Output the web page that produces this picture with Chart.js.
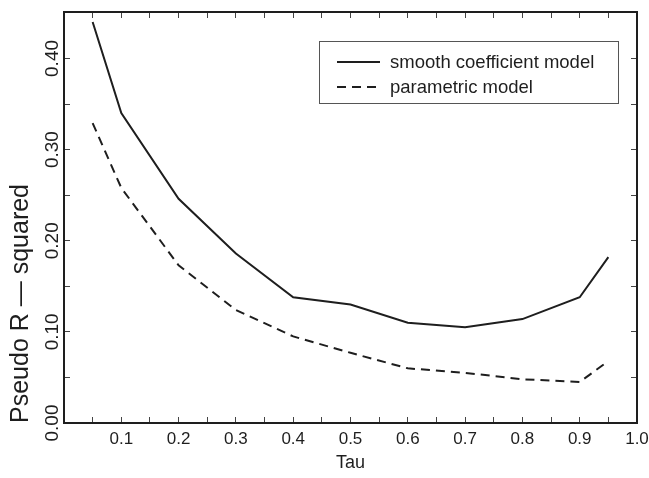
<!DOCTYPE html>
<html>
<head>
<meta charset="utf-8">
<title>Pseudo R-squared by Tau</title>
<script src="https://cdn.jsdelivr.net/npm/chart.js@4.4.1/dist/chart.umd.min.js"></script>
<style>
  html, body { margin: 0; padding: 0; background: #fff; }
  canvas { display: block; }
</style>
</head>
<body>
<canvas id="chart" width="649" height="478"></canvas>
<script>
// values
const tau = [0.05, 0.1, 0.2, 0.3, 0.4, 0.5, 0.6, 0.7, 0.8, 0.9, 0.95];
const smoothModel = [0.440, 0.340, 0.246, 0.186, 0.138, 0.130, 0.110, 0.105, 0.114, 0.138, 0.182];
const parametricModel = [0.329, 0.258, 0.173, 0.124, 0.095, 0.077, 0.060, 0.055, 0.048, 0.045, 0.068];

const xTickLabels = ["0.1", "0.2", "0.3", "0.4", "0.5", "0.6", "0.7", "0.8", "0.9", "1.0"];
const yTickLabels = ["0.00", "0.10", "0.20", "0.30", "0.40"];

const FONT = "'Liberation Sans', Arial, Helvetica, sans-serif";
const INK = "#1e1e1e";

function labelFor(list, v) {
	const hit = list.find((s) => Math.abs(parseFloat(s) - v) < 1e-6);
	return hit === undefined ? "" : hit;
}

// fixed axis sizes so the plot box sits where the original one does
function fixSize(w, h) {
	return (s) => {
		if (w !== null) s.width = w;
		if (h !== null) s.height = h;
		s.paddingLeft = s.paddingRight = s.paddingTop = s.paddingBottom = 0;
	};
}

// frame axes: inward tick marks, no grid inside the plot
function frameAxis(extra) {
	return Object.assign({
		type: "linear",
		grid: { drawOnChartArea: false, drawTicks: true, tickLength: -6, color: "#444", lineWidth: 1 },
		border: { display: true, color: INK, width: 2 },
	}, extra);
}

// legend drawn inside the plot, like the original
const boxLegend = {
	id: "boxLegend",
	afterDraw(chart) {
		const ctx = chart.ctx;
		const x0 = 319, y0 = 41, w = 299, h = 62;
		ctx.save();
		ctx.fillStyle = "#fff";
		ctx.fillRect(x0, y0, w, h);
		ctx.strokeStyle = "#555";
		ctx.lineWidth = 1;
		ctx.strokeRect(x0 + 0.5, y0 + 0.5, w, h);
		ctx.font = "18.5px " + FONT;
		ctx.textBaseline = "middle";
		chart.data.datasets.forEach((ds, i) => {
			const y = y0 + 21 + i * 25;
			ctx.strokeStyle = ds.borderColor;
			ctx.lineWidth = ds.borderWidth;
			ctx.setLineDash(ds.borderDash || []);
			ctx.beginPath();
			ctx.moveTo(x0 + 18, y);
			ctx.lineTo(x0 + 61, y);
			ctx.stroke();
			ctx.setLineDash([]);
			ctx.fillStyle = INK;
			ctx.fillText(ds.label, x0 + 71, y + 1);
		});
		ctx.restore();
	},
};

new Chart(document.getElementById("chart"), {
	type: "line",
	data: {
		datasets: [
			{
				label: "smooth coefficient model",
				data: tau.map((t, i) => ({ x: t, y: smoothModel[i] })),
				borderColor: INK,
				borderWidth: 2,
				pointRadius: 0,
				tension: 0,
				fill: false,
			},
			{
				label: "parametric model",
				data: tau.map((t, i) => ({ x: t, y: parametricModel[i] })),
				borderColor: INK,
				borderWidth: 2,
				borderDash: [9, 6],
				pointRadius: 0,
				tension: 0,
				fill: false,
			},
		],
	},
	options: {
		responsive: false,
		animation: false,
		layout: { padding: 0, autoPadding: false },
		plugins: {
			legend: { display: false },
			tooltip: { enabled: false },
		},
		scales: {
			x: frameAxis({
				position: "bottom",
				min: 0,
				max: 1,
				ticks: {
					stepSize: 0.05,
					autoSkip: false,
					maxRotation: 0,
					padding: 12,
					color: INK,
					font: { family: FONT, size: 17 },
					callback: (v) => labelFor(xTickLabels, v),
				},
				title: { display: true, text: "Tau", color: INK, font: { family: FONT, size: 18 }, padding: { top: 1 } },
				afterFit: fixSize(null, 55),
			}),
			y: frameAxis({
				position: "left",
				min: 0,
				max: 0.451,
				ticks: {
					stepSize: 0.05,
					autoSkip: false,
					includeBounds: false,
					minRotation: 90,
					maxRotation: 90,
					crossAlign: "center",
					padding: -1,
					color: INK,
					font: { family: FONT, size: 19 },
					callback: (v) => labelFor(yTickLabels, v),
				},
				title: {
					display: true,
					text: "Pseudo R — squared",
					align: "start",
					color: INK,
					font: { family: FONT, size: 25 },
					padding: { top: 6, bottom: 0 },
				},
				afterFit: fixSize(64, null),
			}),
			x2: frameAxis({
				position: "top",
				min: 0,
				max: 1,
				ticks: { display: false, stepSize: 0.05, autoSkip: false },
				afterFit: fixSize(null, 12),
			}),
			y2: frameAxis({
				position: "right",
				min: 0,
				max: 0.451,
				ticks: { display: false, stepSize: 0.05, autoSkip: false, includeBounds: false },
				afterFit: fixSize(12, null),
			}),
		},
	},
	plugins: [boxLegend],
});
</script>
</body>
</html>
